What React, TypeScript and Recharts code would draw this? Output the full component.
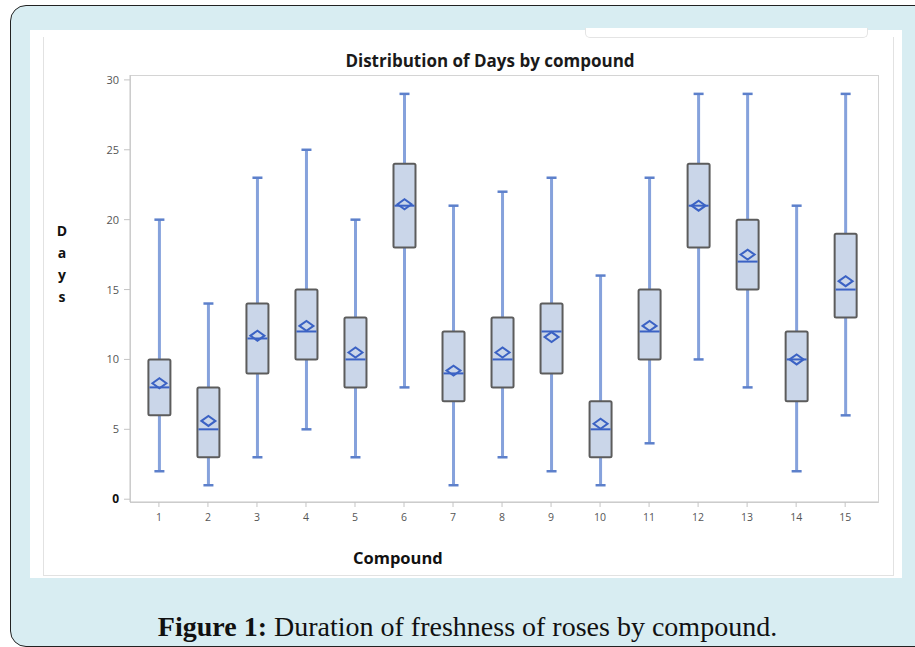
import { ComposedChart, Bar, XAxis, YAxis } from 'recharts'

// values, one entry per compound
const compounds = [1, 2, 3, 4, 5, 6, 7, 8, 9, 10, 11, 12, 13, 14, 15]
const minDays = [2, 1, 3, 5, 3, 8, 1, 3, 2, 1, 4, 10, 8, 2, 6]
const q1Days = [6, 3, 9, 10, 8, 18, 7, 8, 9, 3, 10, 18, 15, 7, 13]
const medianDays = [8, 5, 11.5, 12, 10, 21, 9, 10, 12, 5, 12, 21, 17, 10, 15]
const q3Days = [10, 8, 14, 15, 13, 24, 12, 13, 14, 7, 15, 24, 20, 12, 19]
const maxDays = [20, 14, 23, 25, 20, 29, 21, 22, 23, 16, 23, 29, 29, 21, 29]
const meanDays = [8.3, 5.6, 11.7, 12.4, 10.5, 21.1, 9.2, 10.5, 11.6, 5.4, 12.4, 21, 17.5, 10, 15.6]
const yTicks = [0, 5, 10, 15, 20, 25, 30]

const data = compounds.map((c, i) => ({
  compound: c,
  range: [minDays[i], maxDays[i]],
  min: minDays[i],
  q1: q1Days[i],
  median: medianDays[i],
  q3: q3Days[i],
  max: maxDays[i],
  mean: meanDays[i],
}))

const WHISKER = '#86a2dc'
const CAP = '#5d80cb'
const BOX_FILL = '#cad6e9'
const BOX_EDGE = '#5c5c5c'
const MEAN = '#3b62c4'

function BoxShape(props: any) {
  const { x, y, width, height, payload } = props
  if (payload == null) return null
  const { min, max, q1, q3, median, mean } = payload
  // pixel of a value, from the bar the library placed for [min, max]
  const py = (v: number) => y + (height * (max - v)) / (max - min)
  const cx = x + width / 2
  const top = py(q3)
  const bottom = py(q1)
  const pm = py(mean)
  const pmed = py(median)
  return (
    <g>
      <line x1={cx} x2={cx} y1={py(max)} y2={py(min)} stroke={WHISKER} strokeWidth={3} />
      <line x1={cx - 5} x2={cx + 5} y1={py(max)} y2={py(max)} stroke={CAP} strokeWidth={2.5} />
      <line x1={cx - 5} x2={cx + 5} y1={py(min)} y2={py(min)} stroke={CAP} strokeWidth={2.5} />
      <rect x={x} y={top} width={width} height={bottom - top} rx={1.5} fill={BOX_FILL} stroke={BOX_EDGE} strokeWidth={2} />
      <line x1={x + 1} x2={x + width - 1} y1={pmed} y2={pmed} stroke={MEAN} strokeWidth={2} />
      <path
        d={`M${cx - 7},${pm} L${cx},${pm - 5} L${cx + 7},${pm} L${cx},${pm + 5} Z`}
        fill="none"
        stroke={MEAN}
        strokeWidth={2}
      />
    </g>
  )
}

function YTick(props: any) {
  const { x, y, payload } = props
  const zero = payload.value === 0
  return (
    <text
      x={x}
      y={y}
      dy={4}
      textAnchor="end"
      fontFamily="'Open Sans', sans-serif"
      fontSize={zero ? 12 : 11}
      fontWeight={zero ? 700 : 400}
      fill={zero ? '#111' : '#555'}
    >
      {payload.value}
    </text>
  )
}

export default function App() {
  return (
    <div style={{ position: 'absolute', left: 0, top: 0, width: 915, height: 647, overflow: 'hidden', background: '#fff' }}>
      <div
        style={{
          position: 'absolute',
          left: 10,
          top: 5,
          width: 940,
          height: 640,
          background: '#d8edf2',
          border: '1.5px solid #222',
          borderRadius: 16,
        }}
      />
      <div style={{ position: 'absolute', left: 30, top: 30, width: 872, height: 548, background: '#fff' }} />
      <div style={{ position: 'absolute', left: 43, top: 37, width: 849, height: 538, border: '1px solid #e2e2e2', borderTop: 'none' }} />
      <div
        style={{
          position: 'absolute',
          left: 585,
          top: 28,
          width: 281,
          height: 9,
          border: '1px solid #e4e4e4',
          borderTop: 'none',
          borderRadius: '0 0 5px 5px',
          background: '#fff',
        }}
      />
      <div style={{ position: 'absolute', left: 130, top: 75, width: 747, height: 426, border: '1px solid #d4d4d4' }} />
      <div
        style={{
          position: 'absolute',
          left: 290,
          width: 400,
          top: 49,
          textAlign: 'center',
          fontFamily: "'Open Sans', sans-serif",
          fontWeight: 700,
          fontSize: 17,
          color: '#1a1a1a',
          whiteSpace: 'nowrap',
        }}
      >
        Distribution of Days by compound
      </div>
      <div
        style={{
          position: 'absolute',
          left: 52,
          width: 20,
          top: 220,
          textAlign: 'center',
          fontFamily: "'Open Sans', sans-serif",
          fontWeight: 700,
          fontSize: 14,
          lineHeight: '22px',
          color: '#111',
        }}
      >
        {'Days'.split('').map((ch, i) => (
          <div key={i}>{ch}</div>
        ))}
      </div>
      <div
        style={{
          position: 'absolute',
          left: 353,
          top: 546,
          fontFamily: "'Open Sans', sans-serif",
          fontWeight: 700,
          fontSize: 16.5,
          color: '#111',
        }}
      >
        Compound
      </div>
      <div
        style={{
          position: 'absolute',
          left: 0,
          width: 935,
          top: 611,
          textAlign: 'center',
          fontFamily: "'Liberation Serif', serif",
          fontSize: 28,
          color: '#111',
          whiteSpace: 'nowrap',
        }}
      >
        <b>Figure 1:</b> Duration of freshness of roses by compound.
      </div>
      <div style={{ position: 'absolute', left: 0, top: 0 }}>
        <ComposedChart
          width={915}
          height={647}
          data={data}
          margin={{ top: 75, right: 37, bottom: 115, left: 90 }}
        >
          <XAxis
            type="number"
            dataKey="compound"
            domain={[0.41, 15.67]}
            ticks={compounds}
            interval={0}
            allowDataOverflow
            height={30}
            stroke="#c4c4c4"
            tickSize={5}
            tickMargin={7}
            tick={{ fill: '#555', fontSize: 10.5, fontFamily: "'Open Sans', sans-serif" }}
          />
          <YAxis
            type="number"
            domain={[-0.2, 30.35]}
            ticks={yTicks}
            interval={0}
            allowDataOverflow
            width={40}
            stroke="#c4c4c4"
            tickSize={6}
            tickMargin={5}
            tick={<YTick />}
          />
          <Bar dataKey="range" barSize={22} shape={<BoxShape />} isAnimationActive={false} />
        </ComposedChart>
      </div>
    </div>
  )
}
